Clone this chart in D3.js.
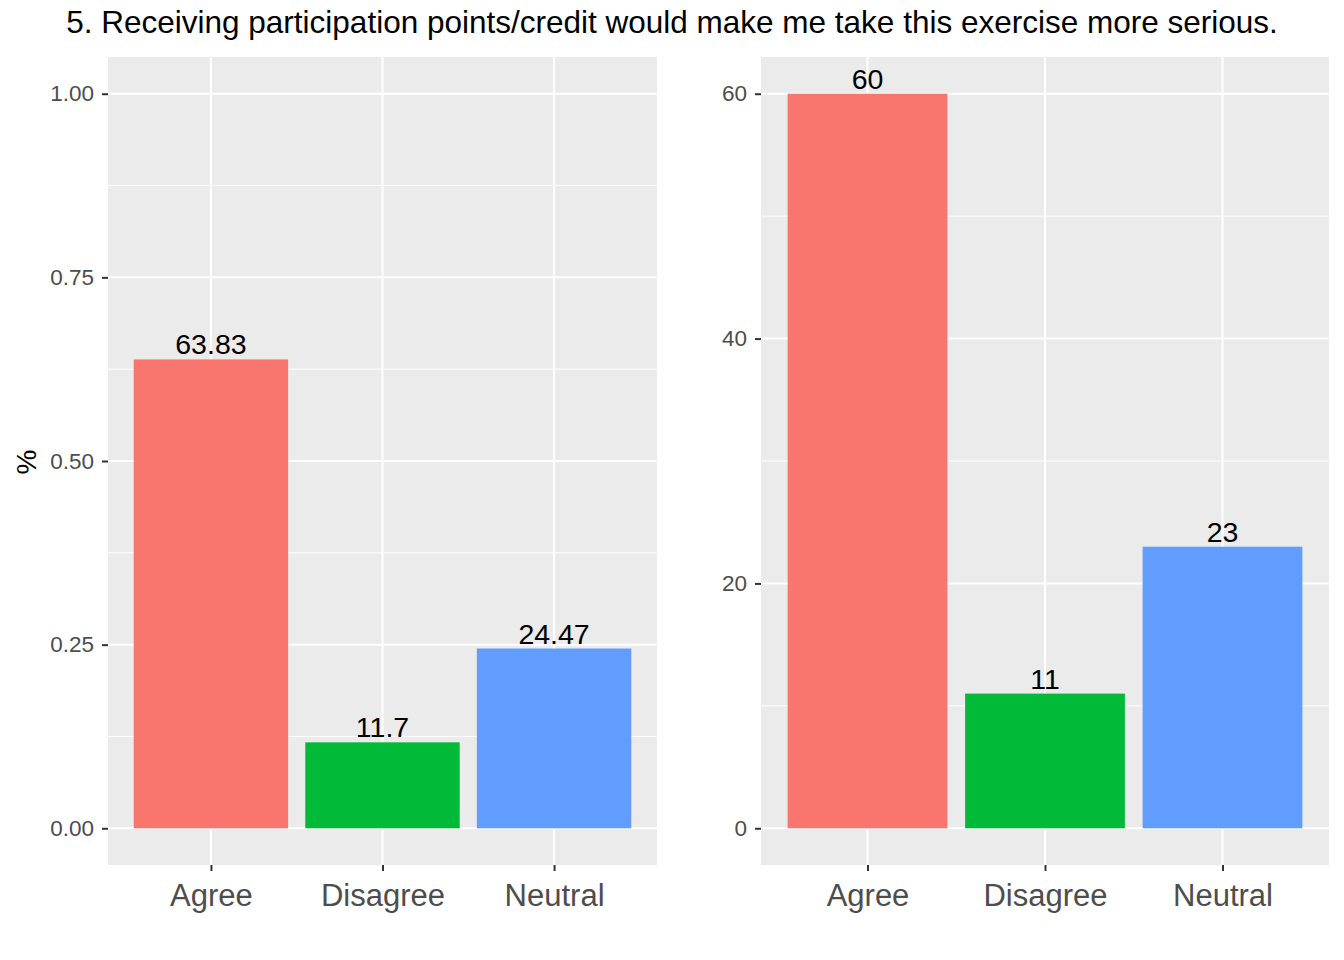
<!DOCTYPE html>
<html>
<head>
<meta charset="utf-8">
<script src="https://cdn.jsdelivr.net/npm/d3@7"></script>
<style>
  body { margin: 0; background: #fff; }
  text { font-family: "Liberation Sans", Arial, sans-serif; }
</style>
</head>
<body>
<svg id="chart" width="1344" height="960"></svg>
<script>
// data
const categories = ["Agree", "Disagree", "Neutral"];
const shareValues = [0.6383, 0.117, 0.2447];
const shareLabels = ["63.83", "11.7", "24.47"];
const countValues = [60, 11, 23];
const shareTicks = [0, 0.25, 0.5, 0.75, 1.0];
const shareMinor = [0.125, 0.375, 0.625, 0.875];
const countTicks = [0, 20, 40, 60];
const countMinor = [10, 30, 50];
const colors = ["#F8766D", "#00BA38", "#619CFF"];
const title = "5. Receiving participation points/credit would make me take this exercise more serious.";

const svg = d3.select("#chart");

svg.append("text")
    .attr("x", 672).attr("y", 33)
    .attr("text-anchor", "middle")
    .attr("font-size", 31.5)
    .text(title);

svg.append("text")
    .attr("transform", "translate(36,462) rotate(-90)")
    .attr("text-anchor", "middle")
    .attr("font-size", 28)
    .text("%");

function drawPanel(p) {
    let x = d3.scaleLinear().domain([0.4, 3.6]).range([p.left, p.right]);
    let y = d3.scaleLinear().domain(p.domain).range([p.bottom, p.top]);
    let g = svg.append("g");

    g.append("rect")
        .attr("x", p.left).attr("y", p.top)
        .attr("width", p.right - p.left).attr("height", p.bottom - p.top)
        .attr("fill", "#EBEBEB");

    // minor grid
    g.selectAll(".minor").data(p.minor).enter().append("line")
        .attr("x1", p.left).attr("x2", p.right)
        .attr("y1", d => y(d)).attr("y2", d => y(d))
        .attr("stroke", "#fff").attr("stroke-width", 1);

    // major grid
    g.selectAll(".major").data(p.ticks).enter().append("line")
        .attr("x1", p.left).attr("x2", p.right)
        .attr("y1", d => y(d)).attr("y2", d => y(d))
        .attr("stroke", "#fff").attr("stroke-width", 2);

    g.selectAll(".vgrid").data(categories).enter().append("line")
        .attr("x1", (d, i) => x(i + 1)).attr("x2", (d, i) => x(i + 1))
        .attr("y1", p.top).attr("y2", p.bottom)
        .attr("stroke", "#fff").attr("stroke-width", 2);

    // bars
    g.selectAll(".bar").data(p.values).enter().append("rect")
        .attr("x", (d, i) => x(i + 1 - 0.45))
        .attr("width", (d, i) => x(i + 1 + 0.45) - x(i + 1 - 0.45))
        .attr("y", d => y(d))
        .attr("height", d => y(0) - y(d))
        .attr("fill", (d, i) => colors[i]);

    g.selectAll(".lbl").data(p.values).enter().append("text")
        .attr("x", (d, i) => x(i + 1))
        .attr("y", d => y(d) - 5)
        .attr("text-anchor", "middle")
        .attr("font-size", 28.5)
        .text((d, i) => p.labels[i]);

    // y axis
    let yAxis = d3.axisLeft(y).tickValues(p.ticks).tickSize(6).tickPadding(8)
        .tickFormat(p.fmt);
    let ya = g.append("g").attr("transform", `translate(${p.left},0)`).call(yAxis);
    ya.select(".domain").remove();
    ya.selectAll("line").attr("stroke", "#333").attr("stroke-width", 2);
    ya.selectAll("text").attr("font-size", 22.5).attr("fill", "#4D4D4D")
        .attr("font-family", "Liberation Sans, Arial, sans-serif");

    // x axis
    let xAxis = d3.axisBottom(x).tickValues([1, 2, 3]).tickSize(6).tickPadding(13)
        .tickFormat(d => categories[d - 1]);
    let xa = g.append("g").attr("transform", `translate(0,${p.bottom})`).call(xAxis);
    xa.select(".domain").remove();
    xa.selectAll("line").attr("stroke", "#333").attr("stroke-width", 2);
    xa.selectAll("text").attr("font-size", 31).attr("fill", "#4D4D4D")
        .attr("font-family", "Liberation Sans, Arial, sans-serif");
}

drawPanel({
    left: 108, right: 657, top: 57, bottom: 865,
    domain: [-0.05, 1.05], values: shareValues, labels: shareLabels,
    ticks: shareTicks, minor: shareMinor, fmt: d3.format(".2f")
});

drawPanel({
    left: 761, right: 1329, top: 57, bottom: 865,
    domain: [-3, 63], values: countValues, labels: countValues.map(String),
    ticks: countTicks, minor: countMinor, fmt: d3.format("d")
});
</script>
</body>
</html>
